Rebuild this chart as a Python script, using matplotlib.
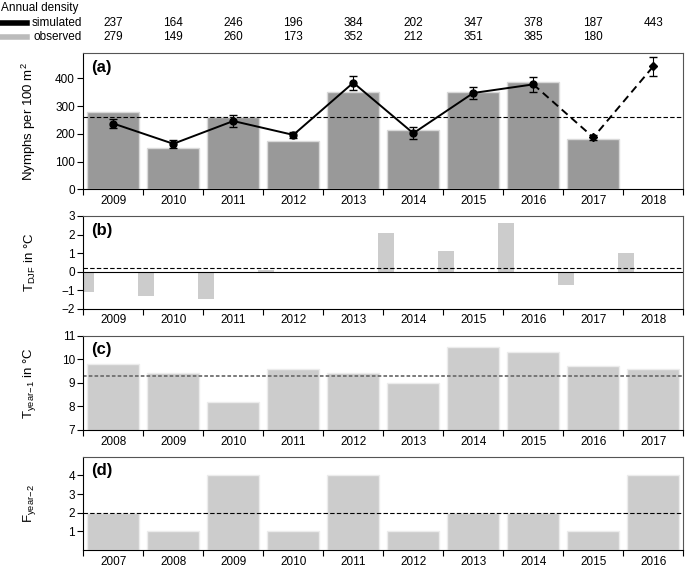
import numpy as np
import matplotlib.pyplot as plt
from matplotlib.lines import Line2D
import matplotlib.transforms as mtransforms

plt.rcParams['font.family'] = ['Liberation Sans', 'DejaVu Sans']
plt.rcParams['mathtext.fontset'] = 'custom'
plt.rcParams['mathtext.rm'] = 'Liberation Sans'
plt.rcParams['font.size'] = 8.5

# panel (a)
years_a = [2009, 2010, 2011, 2012, 2013, 2014, 2015, 2016, 2017, 2018]
observed = [279, 149, 260, 173, 352, 212, 351, 385, 180, 0]
simulated = [237, 164, 246, 196, 384, 202, 347, 378, 187, 443]
sim_err = [16, 14, 22, 12, 26, 21, 21, 26, 10, 34]
obs_labels = ['279', '149', '260', '173', '352', '212', '351', '385', '180', '']
obs_mean = 260

# panel (b)
years_b = [2009, 2010, 2011, 2012, 2013, 2014, 2015, 2016, 2017, 2018]
t_djf = [-1.1, -1.3, -1.5, 0.1, 0.0, 2.1, 1.1, 2.6, -0.7, 1.0]
t_djf_mean = 0.2

# panel (c)
years_c = [2008, 2009, 2010, 2011, 2012, 2013, 2014, 2015, 2016, 2017]
t_prev = [9.8, 9.4, 8.2, 9.6, 9.4, 9.0, 10.5, 10.3, 9.7, 9.6]
t_prev_mean = 9.3

# panel (d)
years_d = [2007, 2008, 2009, 2010, 2011, 2012, 2013, 2014, 2015, 2016]
f_prev = [2, 1, 4, 1, 4, 1, 2, 2, 1, 4]
f_prev_mean = 2

W, H = 685, 568
fig = plt.figure(figsize=(W / 100, H / 100), dpi=100)


def box(top, bottom):
    return [83.3 / W, 1 - bottom / H, 600 / W, (bottom - top) / H]


ax_a = fig.add_axes(box(53.3, 189.3))
ax_b = fig.add_axes(box(216, 308.7))
ax_c = fig.add_axes(box(335.7, 430))
ax_d = fig.add_axes(box(456.7, 550))


def style(ax, years, label, tag):
    n = len(years)
    ax.set_xlim(0, n)
    ax.set_xticks(np.arange(n + 1))
    ax.set_xticklabels([])
    ax.set_xticks(np.arange(n) + 0.5, minor=True)
    ax.set_xticklabels([str(y) for y in years], minor=True)
    ax.tick_params(axis='x', which='major', length=4, width=0.8, direction='out')
    ax.tick_params(axis='x', which='minor', length=0, pad=4)
    ax.tick_params(axis='y', length=4, width=0.8, direction='out', pad=2)
    for s in ['top', 'right']:
        ax.spines[s].set_color('#555555')
    for s in ax.spines.values():
        s.set_linewidth(0.8)
    ax.set_ylabel(label, fontsize=9.5)
    ax.yaxis.set_label_coords(-0.075, 0.5)
    ax.text(8 / 600, 1 - 14 / ax.bbox.height, tag, transform=ax.transAxes,
            fontsize=12, fontweight='bold', va='center', ha='left')


x = np.arange(10) + 0.5

# (a)
ax_a.bar(x[:9], observed[:9], width=0.87, color='#999999', edgecolor='#d9d9d9', linewidth=1)
ax_a.axhline(obs_mean, color='black', lw=0.8, ls=(0, (4, 2)))
ax_a.plot(x[:8], simulated[:8], color='black', lw=1.4)
ax_a.plot(x[7:], simulated[7:], color='black', lw=1.4, ls=(0, (4, 2.5)))
ax_a.errorbar(x, simulated, yerr=sim_err, fmt='none', ecolor='black', elinewidth=0.8, capsize=3)
ax_a.plot(x[:8], simulated[:8], 'o', color='black', ms=5)
ax_a.plot(x[8:], simulated[8:], 'D', color='black', ms=4.5)
ax_a.set_ylim(0, 490)
ax_a.set_yticks([0, 100, 200, 300, 400])
style(ax_a, years_a, 'Nymphs per 100 m$^2$', '(a)')

# (b)
ax_b.bar(np.arange(10) + 0.045, t_djf, width=0.255, color='#cccccc', linewidth=0)
ax_b.axhline(0, color='black', lw=0.8)
ax_b.axhline(t_djf_mean, color='black', lw=0.8, ls=(0, (4, 2)))
ax_b.set_ylim(-2, 3)
ax_b.set_yticks([-2, -1, 0, 1, 2, 3])
style(ax_b, years_b, r'T$_{\mathrm{DJF}}$ in °C', '(b)')

# (c)
ax_c.bar(x, t_prev, width=0.87, color='#cccccc', edgecolor='#ececec', linewidth=1, bottom=0)
ax_c.axhline(t_prev_mean, color='#707070', lw=1.3, ls=(0, (2, 1.2)))
ax_c.set_ylim(7, 11)
ax_c.set_yticks([7, 8, 9, 10, 11])
style(ax_c, years_c, r'T$_{\mathrm{year\!-\!1}}$ in °C', '(c)')

# (d)
ax_d.bar(x, f_prev, width=0.87, color='#cccccc', edgecolor='#ececec', linewidth=1)
ax_d.axhline(f_prev_mean, color='black', lw=0.8, ls=(0, (4, 2)))
ax_d.set_ylim(0, 5)
ax_d.set_yticks([1, 2, 3, 4])
style(ax_d, years_d, r'F$_{\mathrm{year\!-\!2}}$', '(d)')

# legend / annual density table
fig.text(1 / W, 1 - 8 / H, 'Annual density', ha='left', va='center')
fig.text(82 / W, 1 - 23 / H, 'simulated', ha='right', va='center')
fig.text(82 / W, 1 - 37 / H, 'observed', ha='right', va='center')
fig.add_artist(Line2D([0, 27 / W], [1 - 23 / H, 1 - 23 / H], color='black', lw=4))
fig.add_artist(Line2D([0, 27 / W], [1 - 37 / H, 1 - 37 / H], color='#bbbbbb', lw=4))

trans = mtransforms.blended_transform_factory(ax_a.transData, fig.transFigure)
for xi, s, o in zip(x, simulated, obs_labels):
    ax_a.text(xi, 1 - 23 / H, str(s), transform=trans, ha='center', va='center')
    ax_a.text(xi, 1 - 37 / H, o, transform=trans, ha='center', va='center')

fig.savefig('out.png', dpi=100)
